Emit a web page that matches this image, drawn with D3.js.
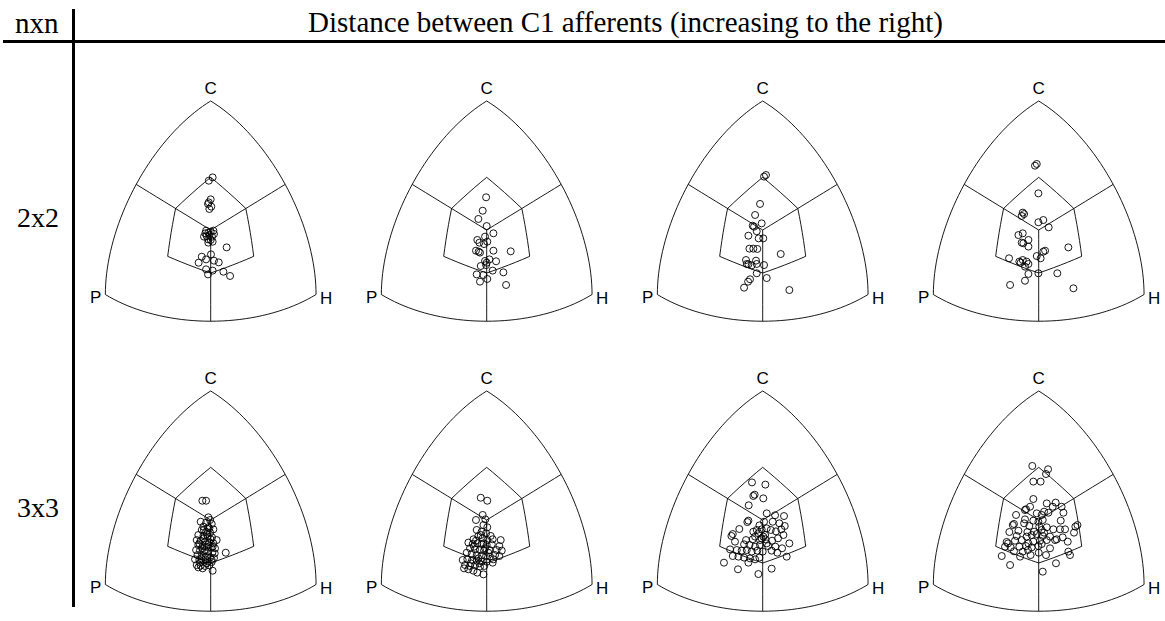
<!DOCTYPE html>
<html>
<head>
<meta charset="utf-8">
<script src="https://cdn.jsdelivr.net/npm/d3@7"></script>
<style>
  body { margin: 0; background: #fff; }
  svg { display: block; }
</style>
</head>
<body>
<svg id="chart" width="1165" height="621"></svg>
<script>
// ---- data ----
var title = "Distance between C1 afferents (increasing to the right)";
var rowHeader = "nxn";
var rowLabels = ["2x2", "3x3"];
var cornerLabels = ["P", "H", "C"];

// points in projected triangle coordinates (centre = 0,0; corners at radius 0.816)
var pts_2x2_d1 = [[0.013,0.333],[-0.013,0.312],[0,0.194],[-0.013,0.175],[0.004,0.148],[-0.009,0.133],[-0.018,0.165],
  [-0.031,-0.004],[-0.016,-0.017],[0,-0.011],[0.018,-0.004],[-0.027,-0.038],[-0.009,-0.032],[0.009,-0.042],[-0.045,-0.042],
  [-0.018,-0.059],[0,-0.063],[0.013,-0.074],[-0.016,-0.080],[-0.036,-0.021],[0.022,-0.025],[0.107,-0.110],[0.002,-0.154],
  [-0.060,-0.169],[-0.031,-0.186],[-0.081,-0.207],[0.022,-0.194],[0.054,-0.205],[-0.031,-0.249],[0.013,-0.257],
  [-0.018,-0.281],[0.085,-0.264],[0.130,-0.291]];
var pts_2x2_d2 = [[-0.004,0.207],[-0.027,0.122],[-0.056,0.070],[0,0.025],[0.045,-0.021],[-0.011,-0.042],[0.004,-0.074],
  [-0.063,-0.063],[-0.049,-0.080],[-0.072,-0.131],[-0.045,-0.143],[0.045,-0.131],[0.161,-0.135],[-0.011,-0.196],
  [0.018,-0.186],[0.063,-0.198],[-0.040,-0.228],[-0.004,-0.222],[-0.067,-0.281],[-0.022,-0.285],[0.004,-0.310],
  [0.040,-0.257],[0.112,-0.268],[-0.045,-0.327],[0.130,-0.348],[-0.054,-0.137],[-0.018,-0.089],[0,-0.207]];
var pts_2x2_d3 = [[0.022,0.348],[0.009,0.338],[-0.018,0.165],[-0.051,0.095],[-0.007,0.042],[-0.058,0.021],[-0.040,-0.008],
  [-0.067,0.027],[-0.096,-0.036],[0.004,-0.053],[-0.027,-0.053],[-0.089,-0.118],[-0.063,-0.118],[-0.036,-0.120],
  [-0.112,-0.190],[-0.045,-0.194],[-0.096,-0.217],[-0.074,-0.224],[-0.040,-0.215],[0.009,-0.222],[-0.107,-0.215],
  [-0.040,-0.274],[0.027,-0.304],[-0.085,-0.312],[-0.098,-0.327],[-0.125,-0.365],[0.121,-0.152],[0.179,-0.380]];
var pts_2x2_d4 = [[-0.013,0.418],[-0.025,0.407],[-0.002,0.232],[-0.107,0.110],[-0.098,0.101],[-0.114,0.089],[-0.002,0.049],
  [0.031,0.063],[0.067,0.017],[-0.107,-0.021],[-0.136,-0.032],[-0.069,-0.063],[-0.103,-0.084],[-0.114,-0.080],
  [-0.069,-0.105],[-0.013,-0.165],[0.031,-0.137],[0.013,-0.179],[0.043,-0.131],[0.199,-0.110],[-0.199,-0.179],
  [-0.130,-0.200],[-0.107,-0.190],[-0.081,-0.200],[-0.092,-0.232],[-0.069,-0.215],[-0.121,-0.207],[-0.002,-0.274],
  [-0.069,-0.278],[0.125,-0.274],[-0.092,-0.321],[-0.192,-0.348],[0.233,-0.369]];
var pts_3x3_d1 = [[-0.056,0.122],[-0.031,0.122],[-0.016,0.017],[-0.004,0],[-0.067,-0.011],[-0.031,-0.017],[0.007,-0.025],
  [-0.049,-0.042],[-0.016,-0.046],[0.018,-0.059],[-0.060,-0.063],[-0.031,-0.074],[-0.004,-0.080],[-0.083,-0.095],
  [-0.049,-0.101],[-0.020,-0.105],[0.009,-0.110],[0.040,-0.127],[-0.094,-0.127],[-0.067,-0.131],[-0.038,-0.137],
  [-0.009,-0.141],[0.018,-0.148],[-0.083,-0.158],[-0.054,-0.165],[-0.027,-0.169],[0.002,-0.173],[0.029,-0.179],
  [-0.098,-0.190],[-0.072,-0.194],[-0.045,-0.198],[-0.016,-0.200],[0.011,-0.207],[0.101,-0.207],[-0.089,-0.222],
  [-0.060,-0.226],[-0.034,-0.232],[-0.004,-0.236],[0.022,-0.241],[-0.105,-0.249],[-0.076,-0.253],[-0.049,-0.257],
  [-0.020,-0.262],[0.007,-0.266],[-0.094,-0.285],[-0.067,-0.289],[-0.038,-0.291],[-0.009,-0.287],[-0.054,-0.306],
  [-0.083,-0.300],[0.013,-0.321],[-0.027,-0.274],[-0.058,-0.179],[0,-0.122],[-0.045,-0.063],[-0.076,-0.148],
  [0.027,-0.211],[-0.038,-0.190],[-0.016,-0.154],[-0.049,-0.116],[0.007,-0.253],[-0.072,-0.270],[-0.027,-0.089],
  [-0.009,-0.053],[-0.036,-0.249],[0.013,-0.169],[-0.063,-0.243]];
var pts_3x3_d2 = [[-0.040,0.141],[0.004,0.122],[-0.027,0.032],[-0.009,0.004],[-0.072,0],[-0.022,-0.032],[0.004,-0.046],
  [-0.067,-0.063],[-0.034,-0.074],[-0.004,-0.084],[0.027,-0.101],[-0.056,-0.101],[-0.089,-0.122],[-0.027,-0.116],
  [0.004,-0.127],[0.040,-0.122],[0.094,-0.127],[-0.123,-0.143],[-0.094,-0.152],[-0.063,-0.148],[-0.034,-0.152],
  [0,-0.158],[0.034,-0.154],[0.085,-0.165],[-0.112,-0.179],[-0.078,-0.186],[-0.045,-0.190],[-0.018,-0.194],
  [0.018,-0.190],[0.067,-0.190],[0.101,-0.194],[-0.134,-0.207],[-0.101,-0.215],[-0.067,-0.222],[-0.034,-0.224],
  [-0.004,-0.228],[0.022,-0.232],[0.056,-0.222],[0.085,-0.228],[-0.161,-0.253],[-0.130,-0.249],[-0.098,-0.253],
  [-0.067,-0.257],[-0.034,-0.262],[0,-0.264],[0.040,-0.270],[-0.145,-0.285],[-0.112,-0.291],[-0.078,-0.287],
  [-0.045,-0.295],[-0.016,-0.291],[-0.152,-0.306],[-0.123,-0.312],[-0.089,-0.321],[-0.063,-0.333],[-0.022,-0.344],
  [-0.049,-0.274],[-0.085,-0.169],[-0.022,-0.148],[-0.056,-0.243],[0.011,-0.207],[-0.107,-0.274],[0.045,-0.249],
  [-0.040,-0.095],[-0.072,-0.131],[-0.011,-0.179]];
var pts_3x3_d3 = [[-0.072,0.238],[0.018,0.224],[-0.063,0.152],[-0.054,0.160],[0.004,0.137],[-0.094,0.093],[0.027,0.042],
  [0.083,0.030],[0.143,0.025],[-0.096,-0.004],[-0.103,-0.013],[0.009,-0.011],[0.067,-0.011],[0.112,-0.021],
  [0.148,-0.038],[0.125,-0.059],[-0.157,-0.057],[-0.022,-0.034],[-0.063,-0.074],[-0.040,-0.063],[-0.007,-0.059],
  [0.027,-0.053],[0.054,-0.063],[0.089,-0.072],[0.139,-0.095],[-0.201,-0.089],[-0.210,-0.101],[-0.186,-0.137],
  [-0.112,-0.127],[-0.067,-0.122],[-0.018,-0.127],[0.018,-0.122],[0.063,-0.131],[0.103,-0.116],[0.179,-0.148],
  [-0.125,-0.154],[-0.089,-0.158],[-0.051,-0.169],[0.036,-0.165],[0.085,-0.169],[0.130,-0.179],[-0.219,-0.186],
  [-0.174,-0.190],[-0.141,-0.194],[-0.107,-0.190],[-0.074,-0.200],[-0.036,-0.194],[0,-0.200],[0.060,-0.194],
  [0.098,-0.207],[-0.201,-0.228],[-0.163,-0.232],[-0.125,-0.238],[-0.085,-0.243],[-0.051,-0.249],[-0.022,-0.238],
  [0.161,-0.232],[-0.260,-0.270],[-0.096,-0.270],[-0.166,-0.312],[0.060,-0.308],[-0.029,-0.342],[0.004,-0.105],
  [-0.007,-0.116],[0.016,-0.095],[-0.029,-0.084],[-0.051,-0.105],[0.027,-0.148],[-0.018,-0.158]];
var pts_3x3_d4 = [[-0.043,0.342],[0.063,0.321],[0.049,0.291],[-0.036,0.243],[0.013,0.243],[-0.036,0.133],[-0.058,0.084],
  [-0.085,0.068],[-0.092,0.063],[0.054,0.105],[0.114,0.110],[0.094,0.084],[0.154,0.084],[-0.152,0.032],[-0.013,0.042],
  [0.020,0.032],[0.036,0.053],[0.065,0.046],[0.166,0.046],[-0.092,0.004],[-0.036,-0.004],[-0.002,-0.011],[0.027,0],
  [0.148,-0.004],[0.246,-0.042],[0.260,-0.032],[-0.174,-0.032],[-0.166,-0.025],[-0.098,-0.021],[-0.063,-0.038],
  [0.004,-0.042],[0.020,-0.063],[0.054,-0.046],[0.098,-0.059],[0.143,-0.059],[0.177,-0.059],[0.237,-0.080],
  [-0.197,-0.076],[-0.136,-0.068],[-0.076,-0.076],[-0.031,-0.074],[-0.013,-0.089],[0.036,-0.080],[0.076,-0.105],
  [0.110,-0.127],[0.121,-0.122],[0.195,-0.137],[-0.215,-0.139],[-0.159,-0.131],[-0.114,-0.127],[-0.069,-0.148],
  [-0.036,-0.137],[0.009,-0.131],[0.054,-0.127],[0.161,-0.110],[-0.226,-0.169],[-0.188,-0.173],[-0.130,-0.169],
  [-0.085,-0.165],[-0.047,-0.173],[-0.002,-0.165],[0.076,-0.179],[0.199,-0.200],[0.210,-0.222],[-0.248,-0.228],
  [-0.166,-0.198],[-0.107,-0.200],[-0.054,-0.222],[0,-0.207],[0.049,-0.222],[-0.192,-0.285],[0.116,-0.274],
  [0.027,-0.327],[-0.206,-0.148],[-0.148,-0.101],[-0.081,-0.105],[-0.047,-0.095],[0.027,-0.101],[0.020,-0.152],
  [-0.125,-0.232],[-0.072,-0.190]];

var panels = [
  [pts_2x2_d1, pts_2x2_d2, pts_2x2_d3, pts_2x2_d4],
  [pts_3x3_d1, pts_3x3_d2, pts_3x3_d3, pts_3x3_d4]
];

// ---- geometry of the spherical triangle ----
function dot(a, b) { return a[0]*b[0] + a[1]*b[1] + a[2]*b[2]; }
function unit(v) { var l = Math.hypot(v[0], v[1], v[2]); return [v[0]/l, v[1]/l, v[2]/l]; }
var ex = unit([-1, 1, 0]), ey = unit([-1, -1, 2]);
function proj(v) { v = unit(v); return [dot(v, ex), dot(v, ey)]; }
// great circle between two directions, sampled
function gc(a, b, n) {
  a = unit(a); b = unit(b);
  var om = Math.acos(Math.min(1, dot(a, b)));
  return d3.range(n + 1).map(function(i) {
    var t = i / n,
        s1 = Math.sin((1 - t) * om) / Math.sin(om),
        s2 = Math.sin(t * om) / Math.sin(om);
    return proj([a[0]*s1 + b[0]*s2, a[1]*s1 + b[1]*s2, a[2]*s1 + b[2]*s2]);
  });
}
var P = [1,0,0], H = [0,1,0], C = [0,0,1], O = [1,1,1];
var outline = gc(P, H, 40).concat(gc(H, C, 40), gc(C, P, 40));
var spokes = [gc(O, [1,1,0], 10), gc(O, [1,0,1], 10), gc(O, [0,1,1], 10)];
var hexV = [[1,1,2],[1,2,2],[1,2,1],[2,2,1],[2,1,1],[2,1,2],[1,1,2]];
var hex = [];
for (var i = 0; i < hexV.length - 1; i++) hex = hex.concat(gc(hexV[i], hexV[i+1], 6));

// ---- layout ----
var svg = d3.select("#chart");
var colScale = d3.scalePoint().domain([0, 1, 2, 3]).range([210.7, 1038.7]);
var rowScale = d3.scalePoint().domain([0, 1]).range([230, 520]);
var rx = 149, ry = 158;

var serif = "'Liberation Serif', 'Times New Roman', serif";
var sans = "'Liberation Sans', Arial, Helvetica, sans-serif";

// header
svg.append("text").attr("x", 15).attr("y", 33)
  .style("font-family", serif).style("font-size", "29px").text(rowHeader);
svg.append("text").attr("x", 625.5).attr("y", 32).attr("text-anchor", "middle")
  .style("font-family", serif).style("font-size", "29px").text(title);
svg.append("line").attr("x1", 3).attr("x2", 1165).attr("y1", 41.5).attr("y2", 41.5)
  .attr("stroke", "#000").attr("stroke-width", 3);
svg.append("line").attr("x1", 73.5).attr("x2", 73.5).attr("y1", 9).attr("y2", 607)
  .attr("stroke", "#000").attr("stroke-width", 3);

rowLabels.forEach(function(lab, r) {
  svg.append("text").attr("x", 17).attr("y", rowScale(r) - 3)
    .style("font-family", serif).style("font-size", "28px").text(lab);
});

panels.forEach(function(row, r) {
  row.forEach(function(data, c) {
    var cx = colScale(c), cy = rowScale(r);
    var x = d3.scaleLinear().domain([-1, 1]).range([cx - rx, cx + rx]);
    var y = d3.scaleLinear().domain([-1, 1]).range([cy + ry, cy - ry]);
    var line = d3.line().x(function(d) { return x(d[0]); }).y(function(d) { return y(d[1]); });
    var g = svg.append("g");

    g.append("path").attr("d", line(outline) + "Z")
      .attr("fill", "none").attr("stroke", "#000").attr("stroke-width", 0.9);
    spokes.forEach(function(s) {
      g.append("path").attr("d", line(s))
        .attr("fill", "none").attr("stroke", "#000").attr("stroke-width", 0.9);
    });
    g.append("path").attr("d", line(hex) + "Z")
      .attr("fill", "none").attr("stroke", "#000").attr("stroke-width", 0.9);

    g.selectAll("circle").data(data).enter().append("circle")
      .attr("cx", function(d) { return x(d[0]); })
      .attr("cy", function(d) { return y(d[1]); })
      .attr("r", 3.5)
      .attr("fill", "none").attr("stroke", "#000").attr("stroke-width", 0.9);

    // corner labels
    var pp = proj(P), hp = proj(H), cp = proj(C);
    g.append("text").attr("x", x(pp[0]) - 4).attr("y", y(pp[1]) + 8).attr("text-anchor", "end")
      .style("font-family", sans).style("font-size", "17px").text(cornerLabels[0]);
    g.append("text").attr("x", x(hp[0]) + 4).attr("y", y(hp[1]) + 9).attr("text-anchor", "start")
      .style("font-family", sans).style("font-size", "17px").text(cornerLabels[1]);
    g.append("text").attr("x", x(cp[0])).attr("y", y(cp[1]) - 7).attr("text-anchor", "middle")
      .style("font-family", sans).style("font-size", "17px").text(cornerLabels[2]);
  });
});
</script>
</body>
</html>
